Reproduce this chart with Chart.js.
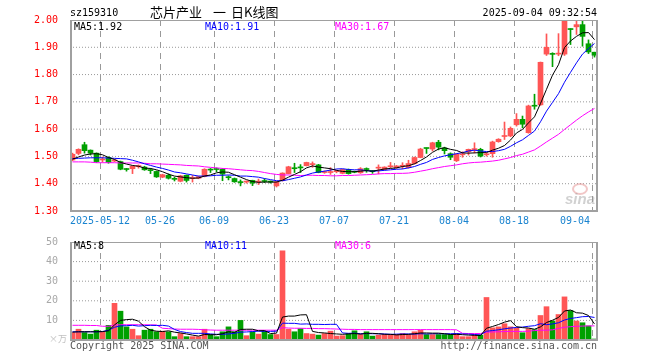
<!DOCTYPE html>
<html>
<head>
<meta charset="utf-8">
<script src="https://cdn.jsdelivr.net/npm/chart.js@4/dist/chart.umd.min.js"></script>
<style>
  html, body { margin: 0; padding: 0; background: #fff; }
  #wrap { position: relative; width: 660px; height: 360px; }
  canvas { position: absolute; left: 0; }
  #kline { top: 0; }
  #vol { top: 232px; }
</style>
</head>
<body>
<div id="wrap">
  <canvas id="kline" width="660" height="232"></canvas>
  <canvas id="vol" width="660" height="128"></canvas>
</div>
<script>
// daily candles, 2025-04-30 .. 2025-09-04
const opens = [1.487,1.511,1.543,1.523,1.512,1.487,1.496,1.483,1.481,1.454, 1.455,1.463,1.461,1.450,1.445,1.424,1.431,1.418,1.409,1.431, 1.419,1.420,1.427,1.452,1.454,1.453,1.424,1.419,1.405,1.406, 1.412,1.406,1.410,1.407,1.392,1.411,1.437,1.457,1.460,1.466, 1.470,1.469,1.441,1.441,1.444,1.438,1.452,1.443,1.440,1.454, 1.447,1.457,1.452,1.462,1.459,1.464,1.459,1.474,1.496,1.530, 1.527,1.552,1.531,1.510,1.484,1.506,1.517,1.525,1.526,1.506, 1.510,1.554,1.573,1.575,1.616,1.636,1.587,1.686,1.689,1.875, 1.876,1.875,1.875,1.967,1.975,1.983,1.913,1.882];
const highs = [1.512,1.528,1.552,1.524,1.513,1.498,1.499,1.489,1.483,1.456, 1.466,1.469,1.464,1.456,1.447,1.435,1.436,1.424,1.431,1.432, 1.430,1.428,1.455,1.456,1.458,1.455,1.429,1.421,1.414,1.410, 1.413,1.417,1.418,1.410,1.409,1.440,1.464,1.475,1.470,1.479, 1.480,1.471,1.447,1.459,1.450,1.453,1.454,1.446,1.459,1.458, 1.449,1.469,1.462,1.478,1.467,1.477,1.486,1.498,1.530,1.531, 1.552,1.559,1.534,1.513,1.510,1.517,1.527,1.550,1.530,1.513, 1.556,1.565,1.626,1.608,1.657,1.648,1.688,1.728,1.846,1.949, 1.880,1.950,2.000,1.968,2.000,1.998,1.927,1.882];
const lows = [1.484,1.506,1.512,1.505,1.478,1.479,1.475,1.481,1.451,1.446, 1.437,1.457,1.449,1.437,1.423,1.422,1.417,1.410,1.407,1.406, 1.406,1.418,1.425,1.441,1.444,1.411,1.414,1.405,1.392,1.402, 1.393,1.397,1.404,1.402,1.388,1.410,1.436,1.441,1.441,1.465, 1.460,1.440,1.438,1.434,1.440,1.436,1.435,1.440,1.438,1.442, 1.438,1.436,1.450,1.458,1.457,1.455,1.457,1.472,1.495,1.511, 1.520,1.524,1.509,1.488,1.481,1.497,1.505,1.513,1.498,1.501, 1.497,1.552,1.562,1.572,1.611,1.605,1.585,1.673,1.687,1.870, 1.829,1.869,1.870,1.910,1.947,1.904,1.877,1.864];
const closes = [1.508,1.526,1.521,1.512,1.481,1.489,1.478,1.487,1.453,1.452, 1.464,1.465,1.451,1.448,1.425,1.433,1.420,1.416,1.429,1.412, 1.421,1.426,1.453,1.450,1.452,1.435,1.422,1.407,1.404,1.407, 1.402,1.407,1.408,1.406,1.407,1.439,1.462,1.455,1.458,1.478, 1.471,1.441,1.443,1.443,1.446,1.452,1.437,1.442,1.455,1.452, 1.444,1.459,1.461,1.463,1.465,1.465,1.474,1.496,1.527,1.529, 1.550,1.534,1.521,1.497,1.508,1.507,1.526,1.527,1.501,1.507, 1.553,1.563,1.575,1.603,1.636,1.618,1.685,1.684,1.845,1.900, 1.874,1.877,2.000,1.965,1.983,1.940,1.883,1.871];

const ma5 = [1.490,1.498,1.505,1.509,1.510,1.506,1.496,1.489,1.478,1.472, 1.467,1.464,1.457,1.456,1.451,1.444,1.435,1.428,1.425,1.422, 1.420,1.421,1.428,1.432,1.440,1.443,1.442,1.433,1.424,1.415, 1.408,1.405,1.406,1.406,1.406,1.413,1.424,1.434,1.444,1.458, 1.465,1.461,1.458,1.455,1.449,1.445,1.444,1.444,1.446,1.448, 1.446,1.450,1.454,1.456,1.458,1.463,1.466,1.473,1.485,1.498, 1.515,1.527,1.532,1.526,1.522,1.513,1.512,1.513,1.514,1.514, 1.523,1.530,1.540,1.560,1.586,1.599,1.623,1.645,1.694,1.746, 1.798,1.836,1.899,1.923,1.940,1.953,1.954,1.928];
const ma10 = [1.492,1.493,1.494,1.495,1.495,1.495,1.494,1.493,1.492, 1.491,1.486,1.480,1.473,1.467,1.461,1.456,1.450,1.443,1.440, 1.436,1.432,1.428,1.428,1.429,1.431,1.431,1.432,1.431,1.428, 1.428,1.426,1.424,1.419,1.415,1.411,1.411,1.415,1.420,1.425, 1.432,1.439,1.443,1.446,1.450,1.454,1.455,1.452,1.451,1.451, 1.448,1.446,1.447,1.449,1.451,1.453,1.454,1.458,1.463,1.471, 1.478,1.489,1.496,1.502,1.506,1.510,1.514,1.520,1.523,1.520, 1.518,1.518,1.521,1.526,1.537,1.550,1.561,1.577,1.593,1.627, 1.666,1.698,1.730,1.772,1.808,1.843,1.875,1.895,1.914];
const ma30 = [1.480,1.480,1.480,1.479,1.477,1.477,1.477,1.477,1.476,1.476, 1.476,1.476,1.475,1.473,1.473,1.472,1.471,1.470,1.469,1.467, 1.466,1.465,1.462,1.460,1.458,1.456,1.455,1.453,1.451,1.449, 1.448,1.445,1.441,1.437,1.434,1.432,1.432,1.431,1.430,1.431, 1.431,1.430,1.430,1.429,1.429,1.430,1.430,1.431,1.432,1.433, 1.434,1.436,1.437,1.437,1.438,1.438,1.439,1.442,1.446,1.450, 1.455,1.459,1.463,1.466,1.469,1.473,1.476,1.478,1.479,1.481, 1.483,1.486,1.491,1.496,1.503,1.508,1.516,1.524,1.538,1.553, 1.567,1.581,1.599,1.616,1.633,1.649,1.663,1.676];

// volume in 万
const volumes = [3.8,5.5,3.8,3.0,5.0,4.2,7.5,18.7,14.7,6.7, 5.5,2.2,5.0,5.5,4.2,4.5,4.2,1.7,3.3,1.7, 1.7,1.7,5.5,2.8,1.7,4.2,6.7,4.2,10.0,2.2, 4.2,3.0,4.5,2.8,2.8,45.5,5.5,4.2,5.8,3.3, 3.0,2.5,3.3,4.5,2.0,2.2,3.3,4.7,2.8,4.2, 2.0,2.5,2.8,2.8,2.8,3.3,2.8,4.2,5.0,2.8, 2.8,2.8,2.8,2.8,3.3,1.7,1.7,2.5,2.5,21.7, 6.2,6.7,8.3,6.7,6.2,3.7,5.8,5.3,12.5,17.0, 9.7,13.0,22.0,15.0,9.7,8.8,7.2,0.5];
const volMa5 = [4.0,4.2,4.2,4.2,4.2,4.3,4.7,7.7,10.0,10.4, 10.6,9.6,6.8,5.0,4.5,4.3,4.7,4.0,3.6,3.1, 2.5,2.0,2.8,2.7,2.7,3.2,4.2,3.9,5.4,5.5, 5.5,4.7,4.8,3.3,3.5,11.7,12.2,12.2,12.8,12.9, 4.4,3.8,3.6,3.3,3.1,2.9,3.1,3.3,3.0,3.4, 3.4,3.2,2.9,2.9,2.6,2.8,2.9,3.2,3.6,3.6, 3.5,3.5,3.2,2.8,2.9,2.7,2.5,2.4,2.3,6.0, 6.9,7.9,9.1,9.9,6.8,6.3,6.1,5.5,6.7,8.9, 10.1,11.5,14.8,15.3,13.9,13.7,12.5,8.2];
const volMa10 = [4.2,4.2,4.2,4.2,4.2,4.3,5.0,6.5,7.2,7.3, 7.5,7.1,7.3,7.5,7.4,7.5,7.1,5.4,4.3,3.8, 3.4,3.4,3.4,3.1,2.9,2.9,3.1,3.4,4.0,4.1, 4.3,4.5,4.4,4.4,4.5,8.6,8.5,8.5,8.1,8.2, 8.0,8.0,7.9,8.0,8.0,3.6,3.4,3.5,3.2,3.3, 3.2,3.2,3.1,2.9,3.0,3.1,3.1,3.0,3.2,3.1, 3.2,3.2,3.2,3.2,3.3,3.1,3.0,2.8,2.6,4.5, 4.8,5.2,5.7,6.1,6.4,6.6,7.0,7.3,8.3,7.8, 8.2,8.8,10.2,11.0,11.4,11.9,12.0,11.5];
const volMa30 = [7.5,7.5,7.5,7.4,7.4,7.0,7.0,7.6,7.8,7.8, 7.8,7.8,7.8,7.7,7.7,6.0,5.8,5.6,5.5,5.5, 5.5,5.4,5.2,5.1,5.0,5.0,5.0,5.0,5.0,5.0, 5.0,5.0,5.0,5.0,5.0,6.3,6.1,6.0,6.0,5.9, 5.9,5.8,5.8,5.7,5.6,5.5,5.4,5.4,5.3,5.3, 5.3,5.3,5.3,5.3,5.3,5.3,5.3,5.3,5.3,5.3, 5.3,5.3,5.3,5.3,5.2,3.4,3.3,3.3,3.3,4.0, 4.1,4.2,4.3,4.4,4.4,4.4,4.5,4.8,5.0,5.0, 5.2,5.9,6.5,6.8,7.0,7.1,7.2,7.2];

// x axis: candle index of each labelled date
const tickIndex = [5, 15, 24, 34, 44, 54, 64, 74, 87];
const tickLabels = ['2025-05-12', '05-26', '06-09', '06-23', '07-07', '07-21', '08-04', '08-18', '09-04'];
const priceTicks = [1.3, 1.4, 1.5, 1.6, 1.7, 1.8, 1.9, 2.0];
const volTicks = [0, 10, 20, 30, 40, 50];

const UP = '#ff5555';
const DOWN = '#00a000';
const GRID = '#999999';
const MONO = '"DejaVu Sans Mono", "Liberation Mono", monospace';
const VOL_TOP = 232;              // page y of the volume canvas
const SHIFT = 2.5 / 6;           // grid sits at the left edge of a candle
const HALF_PX = 0.5 / 6;          // half a pixel in index units, keeps 1px lines crisp
const X_MIN = -SHIFT;
const X_MAX = -SHIFT + 527 / 6;   // 6px per trading day

const colors = closes.map((c, i) => (c >= opens[i] ? UP : DOWN));
const pts = arr => arr.map((v, i) => ({ x: i, y: v }));

function maLine(label, arr, color) {
  return {
    type: 'line', label, data: pts(arr), borderColor: color, borderWidth: 1,
    pointRadius: 0, tension: 0, fill: false, order: 0
  };
}

// grid drawn as plain line datasets: dotted rows at the value ticks,
// dashed columns at the labelled dates
function gridSets(ticks) {
  const lo = ticks[0], hi = ticks[ticks.length - 1];
  const base = { type: 'line', borderColor: GRID, borderWidth: 1, pointRadius: 0, fill: false, tension: 0, order: 10 };
  const rows = ticks.slice(1, -1).map(v => ({
    ...base, label: 'grid', borderDash: [1, 2],
    data: [{ x: X_MIN, y: v }, { x: X_MAX, y: v }]
  }));
  const cols = tickIndex.map(i => ({
    ...base, label: 'grid', borderDash: [6, 5],
    data: [{ x: i - SHIFT + HALF_PX, y: hi }, { x: i - SHIFT + HALF_PX, y: lo }]
  }));
  return rows.concat(cols);
}

function xScale(height) {
  return {
    type: 'linear', min: X_MIN, max: X_MAX, offset: false,
    afterFit: s => { s.height = height; },
    ticks: { display: false },
    grid: { display: false, offset: false },
    border: { display: false }
  };
}

function yScale(min, max, ticks, color, fmt) {
  return {
    min, max,
    afterBuildTicks: s => { s.ticks = ticks.map(v => ({ value: v })); },
    afterFit: s => { s.width = 70; },
    ticks: { color, font: { family: MONO, size: 10 }, padding: 4, callback: fmt },
    grid: { display: false },
    border: { display: false }
  };
}

function frame(ctx, a) {
  ctx.save();
  ctx.fillStyle = '#a0a0a0';
  ctx.fillRect(a.left, a.top, a.right - a.left + 1, 1);
  ctx.fillRect(a.left, a.top, 2, a.bottom - a.top + 1);
  ctx.fillRect(a.right - 1, a.top, 2, a.bottom - a.top + 1);
  ctx.fillRect(a.left, a.bottom - 1, a.right - a.left + 1, 2);
  ctx.restore();
}

function text(ctx, s, x, y, color, font, align) {
  ctx.font = font;
  ctx.fillStyle = color;
  ctx.textAlign = align || 'left';
  ctx.textBaseline = 'middle';
  ctx.fillText(s, x, y);
}

const bodySpans = opens.map((o, i) => [Math.min(o, closes[i]), Math.max(o, closes[i])]);
const wickSpans = lows.map((l, i) => [l, highs[i]]);

const priceDecor = {
  id: 'priceDecor',
  afterDraw(chart) {
    const ctx = chart.ctx, a = chart.chartArea, xs = chart.scales.x;
    ctx.save();
    frame(ctx, a);
    const cjk = '13px "Noto Sans CJK SC"';
    text(ctx, 'sz159310', 70, 13, '#000', '10px ' + MONO);
    text(ctx, '芯片产业', 150, 12, '#000', cjk);
    text(ctx, '一', 213, 12, '#000', cjk);
    text(ctx, '日K线图', 231, 12, '#000', cjk);
    text(ctx, '2025-09-04 09:32:54', 597, 13, '#000', '10px ' + MONO, 'right');
    text(ctx, 'MA5:1.92', 74, 27, '#000', '10px ' + MONO);
    text(ctx, 'MA10:1.91', 205, 27, '#0000ff', '10px ' + MONO);
    text(ctx, 'MA30:1.67', 335, 27, '#ff00ff', '10px ' + MONO);
    // date labels under the grid columns
    ctx.font = '10px ' + MONO;
    tickIndex.forEach((i, k) => {
      const w = ctx.measureText(tickLabels[k]).width;
      let x = xs.getPixelForValue(i - SHIFT);
      x = Math.min(x, a.right - 7 - w / 2);
      text(ctx, tickLabels[k], x, 221, '#1a84d0', '10px ' + MONO, 'center');
    });
    // faint sina watermark
    ctx.globalAlpha = 0.45;
    ctx.strokeStyle = '#e08080';
    ctx.lineWidth = 2;
    ctx.beginPath();
    ctx.ellipse(580, 189, 7, 5, 0, 0, Math.PI * 2);
    ctx.stroke();
    text(ctx, 'sina', 565, 200, '#999', 'italic bold 15px "Liberation Sans"');
    ctx.restore();
  }
};

const volDecor = {
  id: 'volDecor',
  afterDraw(chart) {
    const ctx = chart.ctx, a = chart.chartArea;
    ctx.save();
    frame(ctx, a);
    ctx.translate(0, -VOL_TOP);   // texts below use page coordinates
    text(ctx, 'MA5:8', 74, 246, '#000', '10px ' + MONO);
    text(ctx, 'MA10:11', 205, 246, '#0000ff', '10px ' + MONO);
    text(ctx, 'MA30:6', 335, 246, '#ff00ff', '10px ' + MONO);
    text(ctx, '×万', 49, 339, '#c0c0c0', '9px "Noto Sans CJK SC"');
    text(ctx, 'Copyright 2025 SINA.COM', 70, 346, '#555', '10px ' + MONO);
    text(ctx, 'http://finance.sina.com.cn', 597, 346, '#555', '10px ' + MONO, 'right');
    ctx.restore();
  }
};

const common = {
  responsive: false, animation: false, events: [], devicePixelRatio: 1,
  plugins: { legend: { display: false }, tooltip: { enabled: false } }
};

new Chart(document.getElementById('kline'), {
  type: 'bar',
  data: {
    datasets: [
      maLine('MA5', ma5, '#000000'),
      maLine('MA10', ma10, '#0000ff'),
      maLine('MA30', ma30, '#ff00ff'),
      {
        type: 'bar', label: 'body',
        data: bodySpans.map((s, i) => ({ x: i, y: s })),
        backgroundColor: colors, barThickness: 5, minBarLength: 1, grouped: false, order: 1
      },
      {
        type: 'bar', label: 'wick',
        data: wickSpans.map((s, i) => ({ x: i, y: s })),
        backgroundColor: colors, barThickness: 1, grouped: false, order: 2
      },
      ...gridSets(priceTicks)
    ]
  },
  options: {
    ...common,
    layout: { padding: { left: 0, right: 63, top: 20, bottom: 0 } },
    scales: {
      x: xScale(21),
      y: yScale(1.3, 2.0, priceTicks, '#ff0000', v => v.toFixed(2))
    }
  },
  plugins: [priceDecor]
});

new Chart(document.getElementById('vol'), {
  type: 'bar',
  data: {
    datasets: [
      maLine('MA5', volMa5, '#000000'),
      maLine('MA10', volMa10, '#0000ff'),
      maLine('MA30', volMa30, '#ff00ff'),
      {
        type: 'bar', label: 'volume', data: pts(volumes),
        backgroundColor: colors, barThickness: 5, grouped: false, order: 1
      },
      ...gridSets(volTicks)
    ]
  },
  options: {
    ...common,
    layout: { padding: { left: 0, right: 63, top: 240 - VOL_TOP, bottom: 0 } },
    scales: {
      x: xScale(20),
      y: yScale(0, 50, volTicks, '#a8a8a8', v => (v === 0 ? '' : v))
    }
  },
  plugins: [volDecor]
});
</script>
</body>
</html>
